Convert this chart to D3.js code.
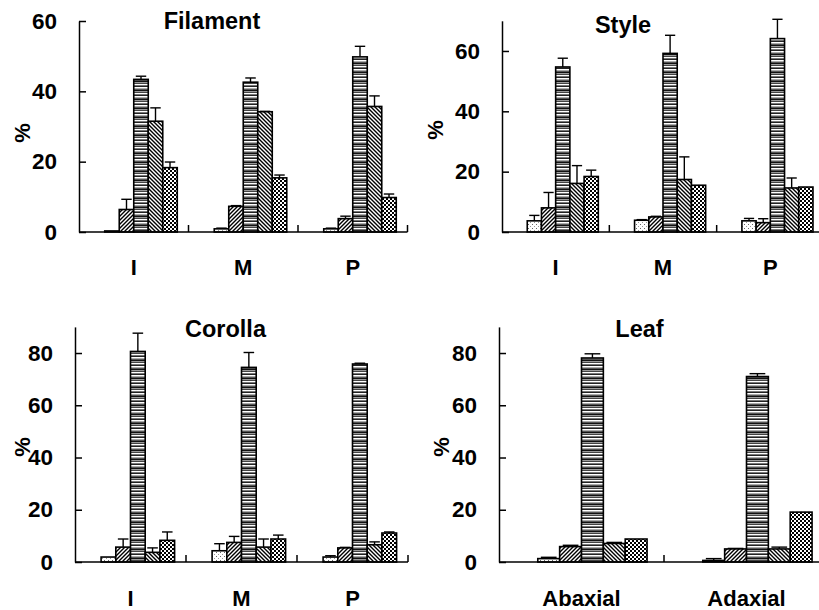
<!DOCTYPE html>
<html>
<head>
<meta charset="utf-8">
<script src="https://cdn.jsdelivr.net/npm/d3@7"></script>
<style>
  body { margin: 0; background: #fff; }
  svg { display: block; }
  text { font-family: "Liberation Sans", Arial, sans-serif; font-weight: bold; fill: #000; }
</style>
</head>
<body>
<script>
// six size classes per group, first one is empty everywhere
const series = ['c0', 'c1', 'c2', 'c3', 'c4', 'c5'];
const flowerCats = ['I', 'M', 'P'];
const leafCats = ['Abaxial', 'Adaxial'];

const filamentMean = [[0, 0.3, 6.4, 43.4, 31.5, 18.3],
                      [0, 0.9, 7.3, 42.6, 34.2, 15.4],
                      [0, 0.9, 3.8, 49.8, 35.7, 9.8]];
const filamentErr  = [[0, 0, 2.9, 0.9, 3.8, 1.6],
                      [0, 0.2, 0.2, 1.2, 0.1, 0.8],
                      [0, 0.2, 0.7, 3.0, 3.0, 1.0]];

const styleMean = [[0, 3.7, 8.0, 54.7, 16.1, 18.4],
                   [0, 3.9, 5.0, 59.2, 17.4, 15.5],
                   [0, 3.7, 3.1, 64.1, 14.6, 14.9]];
const styleErr  = [[0, 1.8, 5.1, 2.9, 5.9, 2.1],
                   [0, 0.2, 0.2, 6.0, 7.5, 0],
                   [0, 0.8, 1.3, 6.4, 3.3, 0]];

const corollaMean = [[0, 1.9, 5.7, 80.6, 3.7, 8.3],
                     [0, 4.3, 7.5, 74.5, 5.7, 8.8],
                     [0, 1.9, 5.4, 75.8, 6.6, 11.1]];
const corollaErr  = [[0, 0, 3.1, 7.0, 1.7, 3.2],
                     [0, 2.7, 2.3, 5.7, 3.1, 1.5],
                     [0, 0.5, 0.2, 0.3, 1.1, 0.4]];

const leafMean = [[0, 1.3, 5.9, 78.1, 7.1, 8.8],
                  [0, 0.6, 5.0, 71.0, 5.0, 19.1]];
const leafErr  = [[0, 0.5, 0.5, 1.6, 0.4, 0],
                  [0, 0.7, 0.2, 1.1, 0.7, 0]];

const yTicksTop = [0, 20, 40, 60];
const yTicksBottom = [0, 20, 40, 60, 80];

var svg = d3.select('body')
  .append('svg')
  .attr('width', 819)
  .attr('height', 610);

// fill patterns
var defs = svg.append('defs');

var p = defs.append('pattern').attr('id', 'pat-c1')
  .attr('patternUnits', 'userSpaceOnUse').attr('width', 4).attr('height', 4);
p.append('rect').attr('width', 4).attr('height', 4).attr('fill', '#fff');
p.append('rect').attr('x', 0).attr('y', 0).attr('width', 1).attr('height', 1).attr('fill', '#666');
p.append('rect').attr('x', 2).attr('y', 2).attr('width', 1).attr('height', 1).attr('fill', '#999');

p = defs.append('pattern').attr('id', 'pat-c2')
  .attr('patternUnits', 'userSpaceOnUse').attr('width', 4).attr('height', 4);
p.append('rect').attr('width', 4).attr('height', 4).attr('fill', '#fff');
p.append('path').attr('d', 'M-1,1 l2,-2 M0,4 l4,-4 M3,5 l2,-2')
  .attr('stroke', '#000').attr('stroke-width', 1.4);

// horizontal streaks of mixed grey, repeating every 9 px
p = defs.append('pattern').attr('id', 'pat-c3')
  .attr('patternUnits', 'userSpaceOnUse').attr('width', 4).attr('height', 9);
p.append('rect').attr('width', 4).attr('height', 9).attr('fill', '#fff');
[[0, '#111'], [1, '#999'], [2, '#444'], [4, '#777'], [5, '#222'], [7, '#aaa'], [8, '#555']].forEach(function(r) {
  p.append('rect').attr('x', 0).attr('y', r[0]).attr('width', 4).attr('height', 1).attr('fill', r[1]);
});

p = defs.append('pattern').attr('id', 'pat-c4')
  .attr('patternUnits', 'userSpaceOnUse').attr('width', 4).attr('height', 4);
p.append('rect').attr('width', 4).attr('height', 4).attr('fill', '#fff');
p.append('path').attr('d', 'M-1,3 l2,2 M0,0 l4,4 M3,-1 l2,2')
  .attr('stroke', '#000').attr('stroke-width', 1.4);

p = defs.append('pattern').attr('id', 'pat-c5')
  .attr('patternUnits', 'userSpaceOnUse').attr('width', 4).attr('height', 4);
p.append('rect').attr('width', 4).attr('height', 4).attr('fill', '#fff');
p.append('rect').attr('x', 0).attr('y', 0).attr('width', 2).attr('height', 2).attr('fill', '#000');
p.append('rect').attr('x', 2).attr('y', 2).attr('width', 2).attr('height', 2).attr('fill', '#000');

function draw_panel(opt)
{
  var g = svg.append('g');
  var x0 = d3.scaleBand().domain(opt.cats).range([opt.left, opt.right]).padding(0);
  var x1 = d3.scaleBand().domain(series).range([0, x0.bandwidth()])
    .paddingInner(0).paddingOuter(0.775);
  var y = d3.scaleLinear().domain([0, opt.ymax]).range([opt.base, opt.top]);
  var bw = x1.bandwidth();
  var cx = d => x0(d.cat) + x1(d.s) + bw / 2;

  var rows = [];
  opt.cats.forEach(function(c, i) {
    series.forEach(function(s, j) {
      rows.push({cat: c, s: s, v: opt.mean[i][j], e: opt.err[i][j]});
    });
  });

  // error bars (upper half only), drawn under the bars
  var eb = g.selectAll('g.err')
    .data(rows.filter(d => d.e > 0))
    .join('g')
    .attr('class', 'err')
    .attr('stroke', '#000')
    .attr('stroke-width', 1.4);
  eb.append('line')
    .attr('x1', cx)
    .attr('x2', cx)
    .attr('y1', d => y(d.v))
    .attr('y2', d => y(d.v + d.e));
  eb.append('line')
    .attr('x1', d => cx(d) - bw * 0.36)
    .attr('x2', d => cx(d) + bw * 0.36)
    .attr('y1', d => y(d.v + d.e))
    .attr('y2', d => y(d.v + d.e));

  // bars
  g.selectAll('rect.bar')
    .data(rows)
    .join('rect')
    .attr('class', 'bar')
    .attr('x', d => x0(d.cat) + x1(d.s))
    .attr('y', d => y(d.v))
    .attr('width', bw)
    .attr('height', d => y(0) - y(d.v))
    .attr('fill', d => d.s == 'c0' ? '#fff' : 'url(#pat-' + d.s + ')')
    .attr('stroke', '#000')
    .attr('stroke-width', 1.6);

  // x axis baseline and group separators
  g.append('line')
    .attr('x1', opt.left).attr('x2', opt.right)
    .attr('y1', y(0)).attr('y2', y(0))
    .attr('stroke', '#000').attr('stroke-width', 1.5);
  g.selectAll('line.sep')
    .data(opt.cats)
    .join('line')
    .attr('class', 'sep')
    .attr('x1', d => x0(d) + x0.bandwidth())
    .attr('x2', d => x0(d) + x0.bandwidth())
    .attr('y1', y(0)).attr('y2', y(0) - 7)
    .attr('stroke', '#000').attr('stroke-width', 1.5);

  // y axis
  var ax = g.append('g')
    .attr('transform', 'translate(' + opt.left + ',0)')
    .call(d3.axisLeft(y).tickValues(opt.ticks).tickSizeInner(-7).tickSizeOuter(0).tickPadding(22));
  ax.select('.domain').attr('stroke', '#000').attr('stroke-width', 1.5);
  ax.selectAll('.tick line').attr('stroke', '#000').attr('stroke-width', 1.5);
  ax.selectAll('.tick text')
    .attr('font-family', '"Liberation Sans", Arial, sans-serif')
    .attr('font-weight', 'bold')
    .attr('font-size', 22.5)
    .attr('fill', '#000');

  // category labels
  g.selectAll('text.cat')
    .data(opt.cats)
    .join('text')
    .attr('class', 'cat')
    .attr('x', d => x0(d) + x0.bandwidth() / 2)
    .attr('y', opt.labelY)
    .attr('text-anchor', 'middle')
    .attr('font-size', 22)
    .text(d => d);

  // title
  g.append('text')
    .attr('x', opt.titleX)
    .attr('y', opt.titleY)
    .attr('text-anchor', 'middle')
    .attr('font-size', 23.5)
    .text(opt.title);

  // unit label
  g.append('text')
    .attr('transform', 'translate(' + opt.pctX + ',' + opt.pctY + ') rotate(-90)')
    .attr('text-anchor', 'middle')
    .attr('dy', '0.35em')
    .attr('font-size', 22)
    .text('%');
}

draw_panel({title: 'Filament', cats: flowerCats, mean: filamentMean, err: filamentErr,
            left: 79, right: 407.5, base: 232, top: 21, ymax: 60, ticks: yTicksTop,
            labelY: 275, titleX: 212, titleY: 28.5, pctX: 22, pctY: 133});

draw_panel({title: 'Style', cats: flowerCats, mean: styleMean, err: styleErr,
            left: 502, right: 824, base: 232, top: 20.8, ymax: 70, ticks: yTicksTop,
            labelY: 275, titleX: 623, titleY: 32.5, pctX: 435, pctY: 130});

draw_panel({title: 'Corolla', cats: flowerCats, mean: corollaMean, err: corollaErr,
            left: 75, right: 408, base: 562, top: 326.9, ymax: 90, ticks: yTicksBottom,
            labelY: 606, titleX: 225.5, titleY: 337, pctX: 22, pctY: 447});

draw_panel({title: 'Leaf', cats: leafCats, mean: leafMean, err: leafErr,
            left: 499, right: 829, base: 562, top: 326.9, ymax: 90, ticks: yTicksBottom,
            labelY: 606, titleX: 639.5, titleY: 337, pctX: 441, pctY: 447});
</script>
</body>
</html>
